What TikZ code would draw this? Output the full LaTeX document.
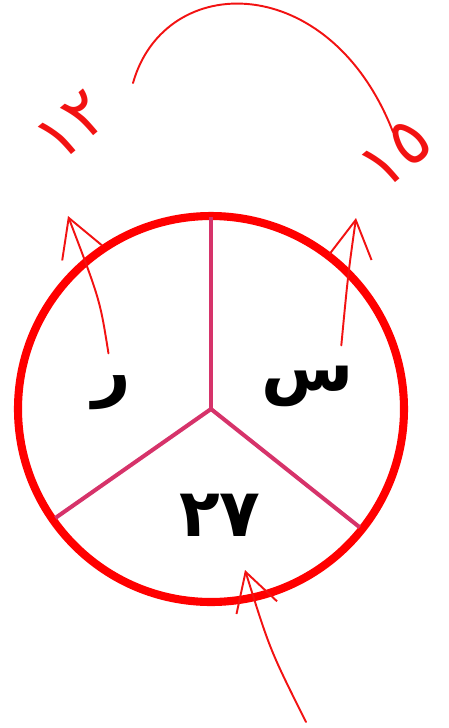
\documentclass[tikz,border=0pt]{standalone}
\usepackage{fontspec}
\usepackage{tikz}
\usetikzlibrary{arrows.meta,positioning}
\TeXXeTstate=1
\newfontfamily\arabicfont[Script=Arabic]{DejaVu Sans}
\definecolor{RingRed}{HTML}{FF0000}
\definecolor{SpokeRose}{HTML}{D6336A}
\definecolor{InkRed}{HTML}{F21212}
\tikzset{
  % Outer ring
  RG/.style={draw=RingRed,line width=4.6pt},
  % Divider spoke
  spk/.style={draw=SpokeRose,line width=2.3pt},
  % Sector label
  lbl/.style={font=\fontsize{38}{40}\selectfont\arabicfont\bfseries,text=black,inner sep=0pt},
  % Hand-written annotation
  hnum/.style={font=\fontsize{38}{40}\selectfont\arabicfont,text=InkRed,inner sep=0pt,rotate=40},
  hand/.style={draw=InkRed,line width=1.1pt,line cap=round},
  harr/.style={hand,-{Straight Barb[length=0.75cm,width=0.85cm,line width=1.1pt]}}
}
\begin{document}
\begin{tikzpicture}[x=0.02cm,y=-0.02cm]
  \useasboundingbox (0,0) rectangle (449,728);

  \coordinate (c) at (211,409);
  \draw[RG] (c) circle[radius=193];
  \draw[spk] (c) -- ++(0,-192);
  \draw[spk] (c) -- ++(145:190);
  \draw[spk] (c) -- ++(38.5:190);

  \node[lbl] (r)   at (112,393) {\beginR ر\endR};
  \node[lbl] (s)   at (308,386) {\beginR س\endR};
  \node[lbl] (n27) at (220,515) {٢٧};

  \node[hnum] (h12) at (72,126) {١٢};
  \node[hnum] (h15) at (396,154) {١٥};

  % arcs and arrows
  \coordinate (arcA) at (133,83);
  \coordinate (arcB) at (393,132);
  \draw[hand] (arcA) .. controls (165,-30) and (330,-30) .. (arcB);

  \coordinate (tipR) at (68,216);
  \coordinate (tipS) at (356,218);
  \coordinate (tip27) at (245,570);
  \coordinate (tail27) at (306,722);
  \draw[harr,shorten <=0.45cm] (r.north) .. controls (100,300) .. (tipR);
  \draw[harr,shorten <=0.4cm] ([xshift=-0.3cm]s.north east) .. controls (348,275) .. (tipS);
  \draw[harr] (tail27) .. controls (270,650) .. (tip27);
\end{tikzpicture}
\end{document}
